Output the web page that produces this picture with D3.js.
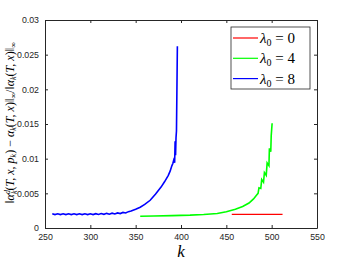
<!DOCTYPE html>
<html>
<head>
<meta charset="utf-8">
<script src="https://cdn.jsdelivr.net/npm/d3@7"></script>
<style>
  body { margin: 0; background: #fff; }
  .tick text { font-family: "Liberation Sans", Arial, sans-serif; font-size: 8.8px; fill: #262626; }
  .domain, .tick line { stroke: #262626; }
</style>
</head>
<body>
<script>
// data
var xTicks = [250, 300, 350, 400, 450, 500, 550];
var yTicks = [0, 0.005, 0.01, 0.015, 0.02, 0.025, 0.03];
var yTickLabels = ["0", "0.005", "0.01", "0.015", "0.02", "0.025", "0.03"];

var kRed = [456, 470, 485, 500, 512];
var vRed = [0.00197, 0.00197, 0.00197, 0.00197, 0.00197];

var kGreen = [355, 370, 390, 410, 425, 440, 450, 460, 468, 475, 480, 483, 485, 486, 488, 489, 491, 492, 494, 495, 497, 497.5, 499, 499.5, 500.5];
var vGreen = [0.0017, 0.00172, 0.00178, 0.00185, 0.00195, 0.0021, 0.00235, 0.0027, 0.0031, 0.0036, 0.0042, 0.0047, 0.0050, 0.0058, 0.0057, 0.0070, 0.0066, 0.0080, 0.0076, 0.0094, 0.0090, 0.0115, 0.0110, 0.0133, 0.0151];

var kBlue = [258, 261, 264, 267, 270, 273, 276, 279, 282, 285, 288, 291, 294, 297, 300, 303, 306, 309, 312, 315, 318, 321, 324, 327, 330, 333, 336, 339, 342, 345, 350, 355, 360, 366, 372, 378, 382, 386, 388, 390, 391, 392, 393, 393.5, 394, 394.5, 395, 395.5, 396];
var vBlue = [0.00205, 0.00193, 0.00205, 0.00193, 0.00205, 0.00193, 0.00205, 0.00193, 0.00205, 0.00193, 0.00205, 0.00193, 0.00205, 0.00193, 0.00206, 0.00194, 0.00207, 0.00195, 0.00209, 0.00197, 0.00211, 0.00199, 0.00214, 0.00202, 0.00218, 0.00208, 0.00225, 0.00216, 0.00236, 0.00245, 0.0027, 0.0030, 0.0034, 0.0040, 0.0049, 0.0059, 0.0067, 0.0076, 0.0082, 0.0090, 0.0093, 0.0098, 0.0094, 0.0125, 0.0105, 0.0130, 0.0140, 0.0200, 0.0262];

var seriesNames = ["0", "4", "8"];
var seriesColors = ["#ff0000", "#00ff00", "#0000ff"];

var width = 350, height = 263;
var margin = {left: 45, right: 33, top: 20, bottom: 35};

var svg = d3.select('body').append('svg')
    .attr('width', width)
    .attr('height', height);

var x = d3.scaleLinear().domain([250, 550]).range([margin.left, width - margin.right]);
var y = d3.scaleLinear().domain([0, 0.03]).range([height - margin.bottom, margin.top]);

// box + axes, ticks pointing inward
svg.append('g').attr('transform', 'translate(0,' + y(0) + ')')
   .call(d3.axisBottom(x).tickValues(xTicks).tickSizeInner(-3).tickSizeOuter(0).tickPadding(6));
svg.append('g').attr('transform', 'translate(0,' + y(0.03) + ')')
   .call(d3.axisTop(x).tickValues(xTicks).tickSizeInner(-3).tickSizeOuter(0).tickFormat(''));
svg.append('g').attr('transform', 'translate(' + x(250) + ',0)')
   .call(d3.axisLeft(y).tickValues(yTicks).tickSizeInner(-3).tickSizeOuter(0).tickPadding(6)
     .tickFormat(function(d, i) { return yTickLabels[i]; }));
svg.append('g').attr('transform', 'translate(' + x(550) + ',0)')
   .call(d3.axisRight(y).tickValues(yTicks).tickSizeInner(-3).tickSizeOuter(0).tickFormat(''));

var line = d3.line()
    .x(function(d) { return x(d[0]); })
    .y(function(d) { return y(d[1]); });

var series = [
  {k: kRed, v: vRed, w: 1.2},
  {k: kGreen, v: vGreen, w: 1.6},
  {k: kBlue, v: vBlue, w: 1.6}
];

series.forEach(function(s, i) {
  svg.append('path')
     .datum(d3.zip(s.k, s.v))
     .attr('fill', 'none')
     .attr('stroke', seriesColors[i])
     .attr('stroke-width', s.w)
     .attr('d', line);
});

// legend
var lg = svg.append('g');
lg.append('rect')
  .attr('x', 231).attr('y', 27).attr('width', 79).attr('height', 62)
  .attr('fill', '#fff').attr('stroke', '#262626').attr('stroke-width', 0.8);
seriesNames.forEach(function(n, i) {
  var yy = 38 + i * 20.3;
  lg.append('line').attr('x1', 233).attr('x2', 258).attr('y1', yy).attr('y2', yy)
    .attr('stroke', seriesColors[i]).attr('stroke-width', 1.2);
  var t = lg.append('text').attr('x', 260).attr('y', yy + 5)
    .attr('font-family', '"Liberation Serif", serif').attr('font-size', 15).attr('fill', '#000');
  t.append('tspan').attr('font-style', 'italic').text('λ');
  t.append('tspan').attr('font-size', 10).attr('dy', 3).text('0');
  t.append('tspan').attr('dy', -3).text(' = ' + n);
});

// x label
svg.append('text')
   .attr('x', x(400)).attr('y', 257)
   .attr('text-anchor', 'middle')
   .attr('font-family', '"Liberation Serif", serif').attr('font-style', 'italic').attr('font-size', 17)
   .text('k');

// y label
var yl = svg.append('text')
   .attr('transform', 'translate(14,' + 123 + ') rotate(-90)')
   .attr('text-anchor', 'middle')
   .attr('font-family', '"Liberation Serif", serif').attr('font-size', 12).attr('fill', '#000');
function part(txt, opts) {
  var ts = yl.append('tspan').text(txt);
  if (opts && opts.it) ts.attr('font-style', 'italic');
  if (opts && opts.dy) ts.attr('dy', opts.dy);
  if (opts && opts.fs) ts.attr('font-size', opts.fs);
  if (opts && opts.dx) ts.attr('dx', opts.dx);
  return ts;
}
part('‖');
part('α', {it: 1});
part('d', {it: 1, fs: 8, dy: -4});
part('k', {it: 1, fs: 8, dy: 7, dx: -4});
part('(', {dy: -3});
part('T, x, p', {it: 1});
part('k', {it: 1, fs: 8, dy: 2});
part(') − ', {dy: -2});
part('α', {it: 1});
part('k', {it: 1, fs: 8, dy: 2});
part('(', {dy: -2});
part('T, x', {it: 1});
part(')‖');
part('∞', {fs: 8, dy: 2});
part('/‖', {dy: -2});
part('α', {it: 1});
part('k', {it: 1, fs: 8, dy: 2});
part('(', {dy: -2});
part('T, x', {it: 1});
part(')‖');
part('∞', {fs: 8, dy: 2});
</script>
</body>
</html>
